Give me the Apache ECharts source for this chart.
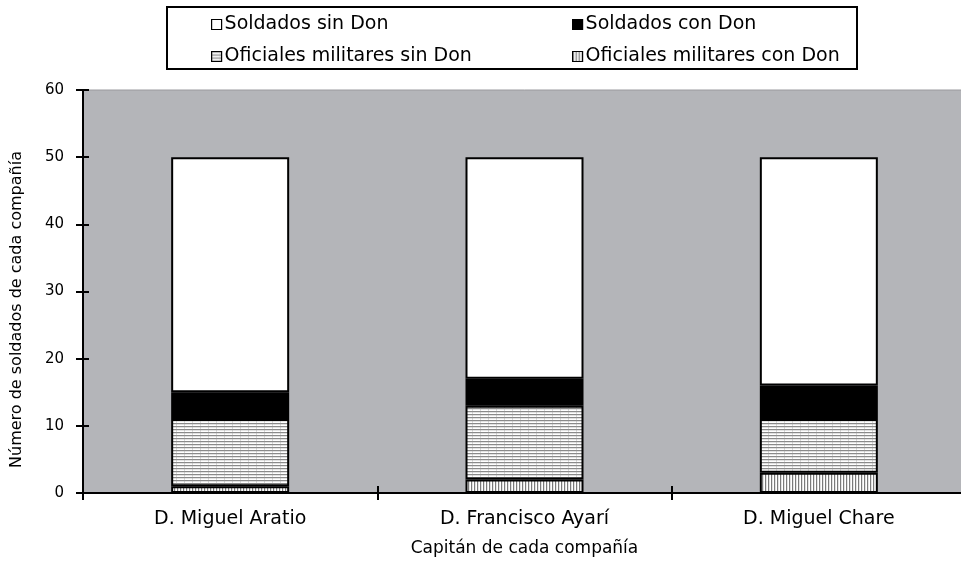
<!DOCTYPE html>
<html>
<head>
<meta charset="utf-8">
<script src="https://cdn.jsdelivr.net/npm/echarts@6/dist/echarts.min.js"></script>
<style>html,body{margin:0;padding:0;background:#fff;overflow:hidden;}#c{width:966px;height:562px;}</style>
</head>
<body>
<div id="c"></div>
<script>
const categories = ['D. Miguel Aratio', 'D. Francisco Ayarí', 'D. Miguel Chare'];
const oficialesConDon = [1, 2, 3];
const oficialesSinDon = [10, 11, 8];
const soldadosConDon = [4, 4, 5];
const soldadosSinDon = [35, 33, 34];
const yTicks = [0, 10, 20, 30, 40, 50, 60];

function hPattern() {
  const c = document.createElement('canvas');
  c.width = 8; c.height = 3;
  const g = c.getContext('2d');
  g.fillStyle = '#ffffff'; g.fillRect(0, 0, 8, 3);
  g.fillStyle = '#e2e2e2'; g.fillRect(0, 1, 8, 1);
  g.fillStyle = '#8a8a8a'; g.fillRect(0, 0, 8, 1);
  g.fillStyle = 'rgba(150,150,150,0.35)'; g.fillRect(0, 0, 1, 3);
  return c;
}
function vPattern() {
  const c = document.createElement('canvas');
  c.width = 3; c.height = 8;
  const g = c.getContext('2d');
  g.fillStyle = '#ffffff'; g.fillRect(0, 0, 3, 8);
  g.fillStyle = '#e2e2e2'; g.fillRect(1, 0, 1, 8);
  g.fillStyle = '#7a7a7a'; g.fillRect(0, 0, 1, 8);
  return c;
}
const FONT = 'DejaVu Sans';
const hFill = { image: hPattern(), repeat: 'repeat' };
const vFill = { image: vPattern(), repeat: 'repeat' };

const chart = echarts.init(document.getElementById('c'), null, { renderer: 'canvas' });

function barSeries(name, data, fill) {
  return {
    name: name, type: 'bar', stack: 'total', data: data, barWidth: 118,
    itemStyle: { color: fill, borderColor: '#000', borderWidth: 2 },
    emphasis: { disabled: true }
  };
}
function legendAt(name, left, top) {
  return {
    data: [name], left: left, top: top, padding: 0, itemWidth: 10, itemHeight: 10, itemGap: 3,
    icon: 'rect', selectedMode: false,
    textStyle: { fontFamily: FONT, fontSize: 19, color: '#000', padding: [0, 0, 0, -2] },
    itemStyle: { borderColor: '#000', borderWidth: 1.2 }
  };
}

chart.setOption({
  animation: false,
  backgroundColor: '#fff',
  graphic: [{
    type: 'rect', shape: { x: 167, y: 7, width: 690, height: 62 },
    style: { fill: 'none', stroke: '#000', lineWidth: 2 }, z: 10
  }],
  legend: [
    legendAt('Soldados sin Don', 211, 15),
    legendAt('Soldados con Don', 572, 15),
    legendAt('Oficiales militares sin Don', 211, 47),
    legendAt('Oficiales militares con Don', 572, 47)
  ],
  grid: { left: 83, top: 90, right: 0, bottom: 67, show: true, backgroundColor: '#b4b5b9', borderColor: '#9a9a9e', borderWidth: 1 },
  xAxis: [{
    type: 'category', data: categories,
    name: 'Capitán de cada compañía', nameLocation: 'middle', nameGap: 47,
    nameTextStyle: { fontFamily: FONT, fontSize: 17, color: '#000' },
    axisLine: { lineStyle: { color: '#000', width: 2 } },
    axisTick: { show: true, length: 7, lineStyle: { color: '#000', width: 2 } },
    axisLabel: { fontFamily: FONT, fontSize: 19, color: '#000', margin: 17 }
  }, {
    type: 'category', data: categories, position: 'bottom',
    axisLine: { show: false },
    axisTick: { show: true, inside: true, length: 7, lineStyle: { color: '#000', width: 2 } },
    axisLabel: { show: false }
  }],
  yAxis: [{
    type: 'value', min: 0, max: 60, interval: 10,
    name: 'Número de soldados de cada compañía', nameLocation: 'middle', nameGap: 58, nameRotate: 90,
    nameTextStyle: { fontFamily: FONT, fontSize: 16, color: '#000', padding: [0, 36, 0, 0] },
    axisLine: { show: true, lineStyle: { color: '#000', width: 2 } },
    axisTick: { show: true, length: 7, lineStyle: { color: '#000', width: 2 } },
    axisLabel: { fontFamily: FONT, fontSize: 15, color: '#000', margin: 19,
      formatter: v => (yTicks.indexOf(v) >= 0 ? String(v) : '') },
    splitLine: { show: false }
  }, {
    type: 'value', min: 0, max: 60, interval: 10, position: 'left',
    axisLine: { show: false },
    axisTick: { show: true, inside: true, length: 6, lineStyle: { color: '#000', width: 2 } },
    axisLabel: { show: false }, splitLine: { show: false }
  }],
  series: [
    barSeries('Oficiales militares con Don', oficialesConDon, vFill),
    barSeries('Oficiales militares sin Don', oficialesSinDon, hFill),
    barSeries('Soldados con Don', soldadosConDon, '#000000'),
    barSeries('Soldados sin Don', soldadosSinDon, '#ffffff')
  ]
});
</script>
</body>
</html>
